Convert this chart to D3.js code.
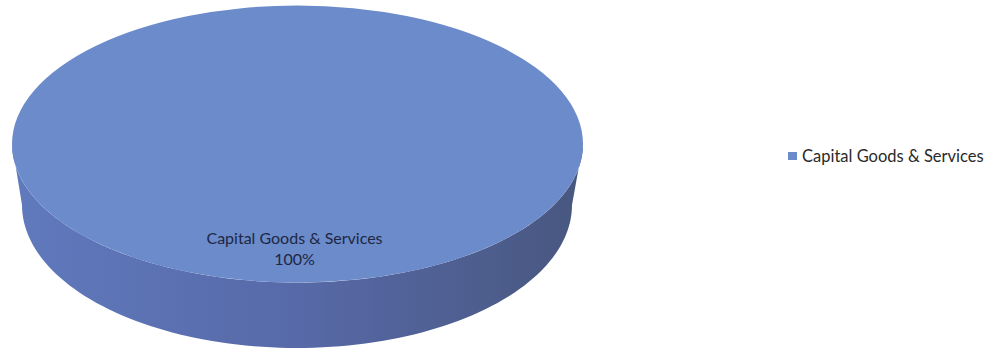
<!DOCTYPE html>
<html>
<head>
<meta charset="utf-8">
<script src="https://cdn.jsdelivr.net/npm/d3@7"></script>
<style>
  body { margin: 0; background: #fff; }
  text { font-family: Lato, "Open Sans", sans-serif; }
</style>
</head>
<body>
<script>
// data
var categories = ["Capital Goods & Services"];
var values = [100];
var percentLabels = ["100%"];
var colors = ["#6b8bcb"];

var svgWidth = 994, svgHeight = 353;
// top rim and bottom rim of the 3d pie (bottom rim a bit narrower, perspective)
var topRim = {cx: 297.5, cy: 144, rx: 285.5, ry: 138.5};
var botRim = {cx: 297, cy: 205, rx: 275, ry: 143};

var svg = d3.select("body").append("svg").attr("width", svgWidth).attr("height", svgHeight);
var defs = svg.append("defs");

// side wall shading, lighter on the left, darker on the right
var sideGrad = defs.append("linearGradient").attr("id", "sideGrad")
    .attr("x1", "0%").attr("x2", "100%").attr("y1", "0%").attr("y2", "0%");
sideGrad.append("stop").attr("offset", "0%").attr("stop-color", "#607abd");
sideGrad.append("stop").attr("offset", "50%").attr("stop-color", "#5769a8");
sideGrad.append("stop").attr("offset", "100%").attr("stop-color", "#48577f");

var color = d3.scaleOrdinal().domain(categories).range(colors);
var pie = d3.pie().sort(null).value(function(d) { return d; });
var slices = pie(values).map(function(s, i) {
  s.name = categories[i];
  s.pct = percentLabels[i];
  return s;
});

// point on a rim for d3 angle a (0 = top, clockwise)
function rim(r, a) {
  return [r.cx + r.rx * Math.sin(a), r.cy - r.ry * Math.cos(a)];
}

// side walls (only the front half is visible)
var sides = svg.append("g").attr("class", "sides");
slices.forEach(function(s) {
  var a0 = Math.max(s.startAngle, Math.PI / 2);
  var a1 = Math.min(s.endAngle, 3 * Math.PI / 2);
  if (a1 <= a0) return;
  var n = 100, top = [], bottom = [];
  for (var k = 0; k <= n; k++) {
    var a = a0 + (a1 - a0) * k / n;
    top.push(rim(topRim, a));
    bottom.push(rim(botRim, a));
  }
  var pts = top.concat(bottom.reverse());
  sides.append("path")
      .attr("d", d3.line().curve(d3.curveLinearClosed)(pts))
      .attr("fill", "url(#sideGrad)");
});

// top face
var arc = d3.arc().innerRadius(0).outerRadius(topRim.rx);
var topG = svg.append("g")
    .attr("transform", "translate(" + topRim.cx + "," + topRim.cy + ") scale(1," + (topRim.ry / topRim.rx) + ")");
topG.selectAll("path.slice")
    .data(slices)
    .enter().append("path")
    .attr("class", "slice")
    .attr("d", arc)
    .attr("fill", function(d) { return color(d.name); });

// data labels
var labelArc = d3.arc().innerRadius(topRim.rx * 0.72).outerRadius(topRim.rx * 0.72);
var labels = svg.append("g").attr("class", "labels");
slices.forEach(function(s) {
  var c = labelArc.centroid(s);
  var x = topRim.cx - 3 + c[0], y = topRim.cy + c[1] * topRim.ry / topRim.rx;
  var t = labels.append("text")
      .attr("text-anchor", "middle")
      .attr("fill", "#1e2742")
      .style("font-size", "16px");
  t.append("tspan").attr("x", x).attr("y", y).text(s.name);
  t.append("tspan").attr("x", x).attr("y", y + 21).text(s.pct);
});

// legend
var legend = svg.append("g").attr("transform", "translate(788,152)");
var items = legend.selectAll("g").data(categories).enter().append("g")
    .attr("transform", function(d, i) { return "translate(0," + (i * 20) + ")"; });
items.append("rect").attr("width", 9).attr("height", 8)
    .attr("fill", function(d) { return color(d); });
items.append("text").attr("x", 14).attr("y", 10)
    .attr("fill", "#2a2a2a")
    .style("font-size", "16.5px")
    .text(function(d) { return d; });
</script>
</body>
</html>
